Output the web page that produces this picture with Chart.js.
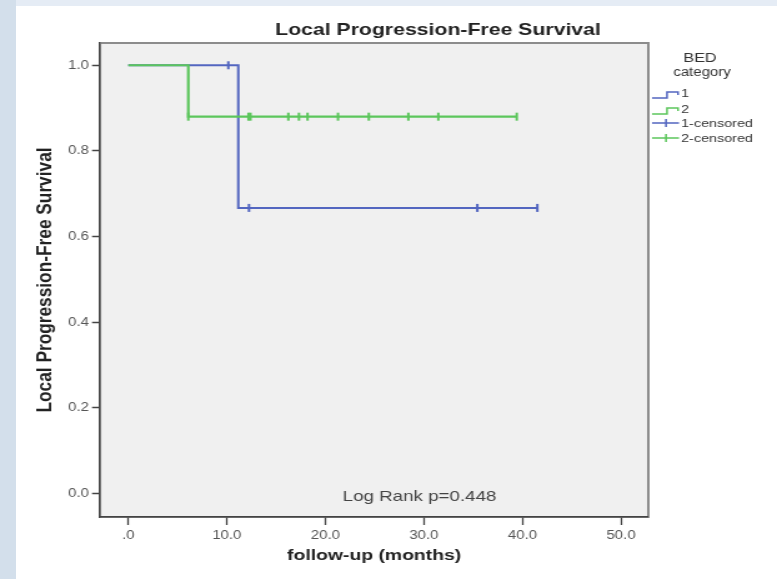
<!DOCTYPE html>
<html>
<head>
<meta charset="utf-8">
<script src="https://cdn.jsdelivr.net/npm/chart.js@4.4.1/dist/chart.umd.min.js"></script>
<style>
  html, body { margin: 0; padding: 0; }
  body { width: 777px; height: 579px; position: relative; overflow: hidden; background: #e5ecf5; }
  #strip { position: absolute; left: 0; top: 0; width: 16px; height: 579px; background: #d3dfeb; }
  #panel { position: absolute; left: 16px; top: 6px; width: 761px; height: 573px; background: #ffffff; }
  #c { position: absolute; left: 0; top: 0; }
</style>
</head>
<body>
<div id="strip"></div>
<div id="panel"></div>
<canvas id="c" width="622" height="579" style="width:777px;height:579px;"></canvas>
<script>
// ---- data ----
const chartTitle = "Local Progression-Free Survival";
const xTitle = "follow-up (months)";
const yTitle = "Local Progression-Free Survival";
const legendTitle = ["BED", "category"];
const legendLabels = ["1", "2", "1-censored", "2-censored"];
const annotationText = "Log Rank p=0.448";

const xTickValues = [0, 10, 20, 30, 40, 50];
const xTickLabels = [".0", "10.0", "20.0", "30.0", "40.0", "50.0"];
const yTickValues = [0, 0.2, 0.4, 0.6, 0.8, 1.0];
const yTickLabels = ["0.0", "0.2", "0.4", "0.6", "0.8", "1.0"];

// group 1 (blue) survival steps
const group1Times = [0, 11.16, 41.51];
const group1Surv  = [1.0, 0.667, 0.667];
const group1CensorTimes = [10.15, 12.25, 35.42, 41.51];
const group1CensorSurv  = [1.0, 0.667, 0.667, 0.667];

// group 2 (green) survival steps
const group2Times = [0, 6.09, 39.42];
const group2Surv  = [1.0, 0.88, 0.88];
const group2CensorTimes = [6.09, 12.2, 12.4, 16.24, 17.32, 18.19, 21.28, 24.41, 28.42, 31.46, 39.42];
const group2CensorSurv  = [0.88, 0.88, 0.88, 0.88, 0.88, 0.88, 0.88, 0.88, 0.88, 0.88, 0.88];

// ---- styling ----
const BLUE = "#5366c0";
const GREEN = "#5cc65c";
const S = 777 / 622; // horizontal stretch of the reference
const sx = v => v / S;

const pts = (xs, ys) => xs.map((x, i) => ({ x: x, y: ys[i] }));

const decor = {
  id: "decor",
  beforeDraw(chart) {
    const { ctx, chartArea: a } = chart;
    ctx.save();
    ctx.fillStyle = "#f0f0f0";
    ctx.fillRect(a.left, a.top, a.right - a.left, a.bottom - a.top);
    ctx.strokeStyle = "#8c8c8c";
    ctx.lineWidth = 2;
    ctx.strokeRect(a.left, a.top, a.right - a.left, a.bottom - a.top);
    ctx.restore();
  },
  afterDraw(chart) {
    const { ctx } = chart;
    ctx.save();
    ctx.textAlign = "center";
    ctx.textBaseline = "middle";
    ctx.fillStyle = "#222";
    ctx.font = "bold 17px 'Liberation Sans', Arial, sans-serif";
    ctx.fillText(chartTitle, sx(438), 30);

    // annotation
    ctx.fillStyle = "#444";
    ctx.font = "15px 'Liberation Sans', Arial, sans-serif";
    ctx.fillText(annotationText, sx(419.5), 497);

    // legend
    ctx.fillStyle = "#333";
    ctx.font = "13px 'Liberation Sans', Arial, sans-serif";
    ctx.fillText(legendTitle[0], sx(700), 58);
    ctx.font = "12px 'Liberation Sans', Arial, sans-serif";
    ctx.fillText(legendTitle[1], sx(702), 73);

    const rows = [93, 109, 123, 138];
    const cols = [BLUE, GREEN, BLUE, GREEN];
    ctx.font = "11.5px 'Liberation Sans', Arial, sans-serif";
    ctx.textAlign = "left";
    for (let i = 0; i < 4; i++) {
      const y = rows[i];
      ctx.strokeStyle = cols[i];
      ctx.lineWidth = 1.5;
      ctx.beginPath();
      if (i < 2) {
        ctx.moveTo(sx(652), y + 5);
        ctx.lineTo(sx(667), y + 5);
        ctx.lineTo(sx(667), y - 1);
        ctx.lineTo(sx(678), y - 1);
        ctx.lineTo(sx(678), y + 2);
      } else {
        ctx.moveTo(sx(652), y);
        ctx.lineTo(sx(679), y);
        ctx.moveTo(sx(666), y - 4);
        ctx.lineTo(sx(666), y + 4);
      }
      ctx.stroke();
      ctx.fillStyle = "#333";
      ctx.fillText(legendLabels[i], sx(681), y + 0.5);
    }
    ctx.restore();
  }
};

new Chart(document.getElementById("c"), {
  type: "line",
  data: {
    datasets: [
      { label: legendLabels[3], data: pts(group2CensorTimes, group2CensorSurv), showLine: false,
        pointStyle: "line", rotation: 90, radius: 4, pointBorderWidth: 2, borderColor: GREEN,
        pointBorderColor: GREEN, order: 0 },
      { label: legendLabels[1], data: pts(group2Times, group2Surv), stepped: true, pointRadius: 0,
        borderColor: GREEN, borderWidth: 2.2, order: 1 },
      { label: legendLabels[2], data: pts(group1CensorTimes, group1CensorSurv), showLine: false,
        pointStyle: "line", rotation: 90, radius: 4, pointBorderWidth: 2, borderColor: BLUE,
        pointBorderColor: BLUE, order: 2 },
      { label: legendLabels[0], data: pts(group1Times, group1Surv), stepped: true, pointRadius: 0,
        borderColor: BLUE, borderWidth: 2, order: 3 }
    ]
  },
  options: {
    responsive: false,
    animation: false,
    devicePixelRatio: 1,
    layout: { padding: { left: 0, top: 43, right: 622 - sx(648.3), bottom: 0 } },
    plugins: { legend: { display: false }, tooltip: { enabled: false }, title: { display: false } },
    elements: { line: { tension: 0 } },
    scales: {
      x: {
        type: "linear",
        min: -2.87,
        max: 52.77,
        afterFit(s) { s.height = 62; },
        afterBuildTicks(s) { s.ticks = xTickValues.map(v => ({ value: v })); },
        ticks: {
          callback: (v) => xTickLabels[xTickValues.indexOf(v)],
          color: "#555",
          font: { family: "'Liberation Sans', Arial, sans-serif", size: 12 },
          padding: 3,
          maxRotation: 0,
          autoSkip: false
        },
        grid: { drawOnChartArea: false, drawTicks: true, tickLength: 8, tickColor: "#444", tickWidth: 1.3 },
        border: { display: true, color: "#444", width: 1.5 },
        title: {
          display: true, text: xTitle, color: "#222",
          font: { family: "'Liberation Sans', Arial, sans-serif", size: 15.5, weight: "bold" },
          padding: { top: 0, bottom: 13.7 }
        }
      },
      y: {
        type: "linear",
        min: -0.0546,
        max: 1.052,
        afterFit(s) { s.width = sx(100); },
        afterBuildTicks(s) { s.ticks = yTickValues.map(v => ({ value: v })); },
        ticks: {
          callback: (v) => yTickLabels[yTickValues.indexOf(v)],
          color: "#555",
          font: { family: "'Liberation Sans', Arial, sans-serif", size: 12 },
          padding: 2.4,
          autoSkip: false
        },
        grid: { drawOnChartArea: false, drawTicks: true, tickLength: 6.4, tickColor: "#444", tickWidth: 1.5 },
        border: { display: true, color: "#444", width: 1.3 },
        title: {
          display: true, text: yTitle, color: "#222",
          font: { family: "'Liberation Sans', Arial, sans-serif", size: 17.3, weight: "bold" },
          padding: { top: 25.6, bottom: 0 }
        }
      }
    }
  },
  plugins: [decor]
});
</script>
</body>
</html>
